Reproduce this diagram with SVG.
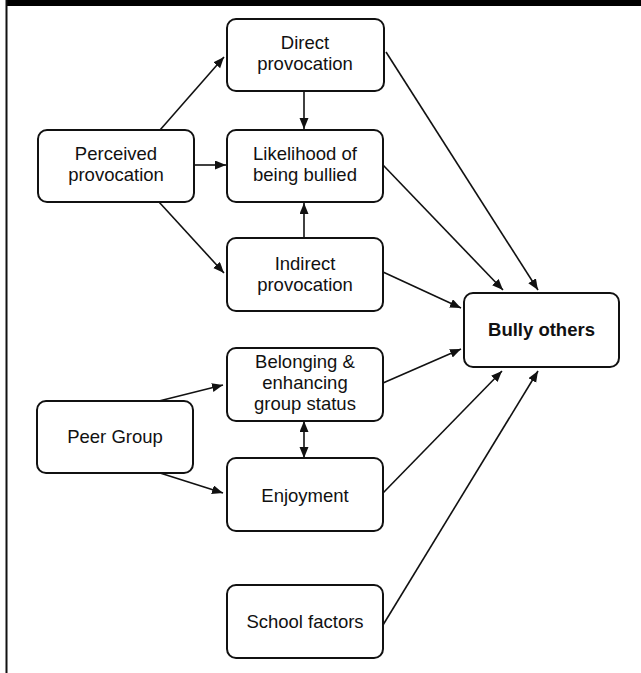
<svg xmlns="http://www.w3.org/2000/svg" width="641" height="673" viewBox="0 0 641 673">
<style>
.box{fill:#fff;stroke:#111;stroke-width:2}
.t{font-family:"Liberation Sans",Arial,sans-serif;font-size:18.5px;fill:#111;text-anchor:middle}
.b{font-weight:bold}
.c{stroke:#111;stroke-width:1.6;fill:none;marker-end:url(#ah)}
</style>
<defs>
<marker id="ah" markerUnits="userSpaceOnUse" markerWidth="12" markerHeight="10" refX="11" refY="4.5" orient="auto-start-reverse">
<path d="M0,0 L11,4.5 L0,9 z" fill="#111"/>
</marker>
</defs>
<rect x="0" y="0" width="641" height="673" fill="#fff"/>
<rect x="6" y="0" width="635" height="6" fill="#000"/>
<line x1="6.5" y1="0" x2="6.5" y2="673" stroke="#111" stroke-width="2"/>
<g id="connectors">
<line class="c" x1="160" y1="130" x2="224" y2="57"/>
<line class="c" x1="194" y1="165" x2="226" y2="165"/>
<line class="c" x1="159" y1="202" x2="224" y2="273"/>
<line class="c" x1="304" y1="91" x2="304" y2="129"/>
<line class="c" x1="304" y1="238" x2="304" y2="203"/>
<line class="c" x1="386" y1="52" x2="538" y2="290"/>
<line class="c" x1="383" y1="165" x2="503" y2="290"/>
<line class="c" x1="383" y1="272" x2="461" y2="308"/>
<line class="c" x1="159" y1="401" x2="223" y2="385"/>
<line class="c" x1="160" y1="473" x2="223" y2="493"/>
<line class="c" x1="304" y1="421" x2="304" y2="458" style="marker-start:url(#ah)"/>
<line class="c" x1="383" y1="383" x2="461" y2="349"/>
<line class="c" x1="383" y1="493" x2="502" y2="371"/>
<line class="c" x1="383" y1="625" x2="538" y2="371"/>
</g>
<g id="direct">
<rect class="box" x="227" y="19" width="157" height="72" rx="9"/>
<text class="t" x="305" y="49">Direct</text>
<text class="t" x="305" y="70">provocation</text>
</g>
<g id="perceived">
<rect class="box" x="38" y="130" width="156" height="72" rx="9"/>
<text class="t" x="116" y="160">Perceived</text>
<text class="t" x="116" y="181">provocation</text>
</g>
<g id="likelihood">
<rect class="box" x="227" y="130" width="156" height="72" rx="9"/>
<text class="t" x="305" y="160">Likelihood of</text>
<text class="t" x="305" y="181">being bullied</text>
</g>
<g id="indirect">
<rect class="box" x="227" y="238" width="156" height="73" rx="9"/>
<text class="t" x="305" y="270">Indirect</text>
<text class="t" x="305" y="291">provocation</text>
</g>
<g id="bully">
<rect class="box" x="464" y="293" width="155" height="74" rx="9"/>
<text class="t b" x="541.5" y="336">Bully others</text>
</g>
<g id="belonging">
<rect class="box" x="227" y="348" width="156" height="73" rx="9"/>
<text class="t" x="305" y="368">Belonging &amp;</text>
<text class="t" x="305" y="389">enhancing</text>
<text class="t" x="305" y="410">group status</text>
</g>
<g id="peer">
<rect class="box" x="37" y="401" width="156" height="72" rx="9"/>
<text class="t" x="115" y="443">Peer Group</text>
</g>
<g id="enjoyment">
<rect class="box" x="227" y="458" width="156" height="73" rx="9"/>
<text class="t" x="305" y="502">Enjoyment</text>
</g>
<g id="school">
<rect class="box" x="227" y="585" width="156" height="73" rx="9"/>
<text class="t" x="305" y="628">School factors</text>
</g>
</svg>
